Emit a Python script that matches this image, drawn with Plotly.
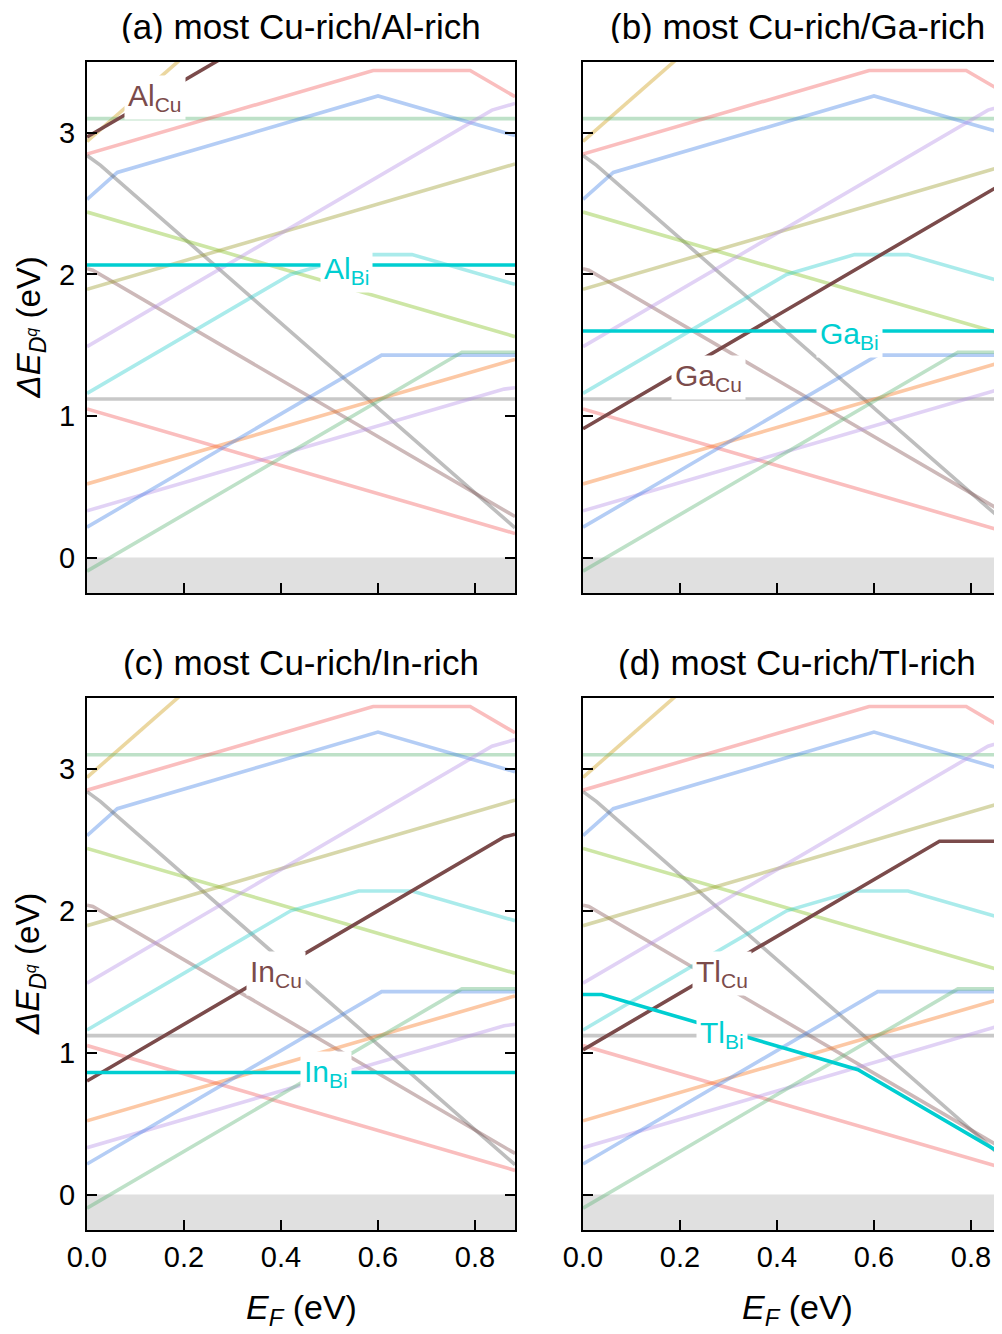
import plotly.graph_objects as go

# ---------------- data ----------------
EF_MAX = 0.8825

# background (faint) defect lines, identical in all panels: breakpoints (E_F, dE)
bg_names = ["yellow", "green_top", "pink_top", "blue_top", "gray_steep", "rosy",
            "yellowgreen", "khaki", "purple_top", "cyan_light", "gray_h",
            "pink_low", "orange", "purple_low", "blue_low", "green_low"]
bg_x = {
    "yellow":      [0.0, 0.25],
    "green_top":   [0.0, EF_MAX],
    "pink_top":    [0.0, 0.59, 0.79, EF_MAX],
    "blue_top":    [0.0, 0.0625, 0.60, EF_MAX],
    "gray_steep":  [0.0, 0.028, EF_MAX],
    "rosy":        [0.0, 0.012, EF_MAX],
    "yellowgreen": [0.0, EF_MAX],
    "khaki":       [0.0, EF_MAX],
    "purple_top":  [0.0, 0.835, EF_MAX],
    "cyan_light":  [0.0, 0.42, 0.56, 0.67, EF_MAX],
    "gray_h":      [0.0, EF_MAX],
    "pink_low":    [0.0, EF_MAX],
    "orange":      [0.0, EF_MAX],
    "purple_low":  [0.0, 0.86, EF_MAX],
    "blue_low":    [0.0, 0.6076, EF_MAX],
    "green_low":   [0.0, 0.773, EF_MAX],
}
bg_y = {
    "yellow":      [2.94, 3.69],
    "green_top":   [3.10, 3.10],
    "pink_top":    [2.85, 3.44, 3.44, 3.255],
    "blue_top":    [2.53, 2.72, 3.26, 2.98],
    "gray_steep":  [2.84, 2.77, 0.21],
    "rosy":        [2.04, 2.03, 0.29],
    "yellowgreen": [2.44, 1.56],
    "khaki":       [1.895, 2.78],
    "purple_top":  [1.49, 3.16, 3.207],
    "cyan_light":  [1.16, 2.00, 2.14, 2.14, 1.93],
    "gray_h":      [1.12, 1.12],
    "pink_low":    [1.05, 0.17],
    "orange":      [0.52, 1.40],
    "purple_low":  [0.33, 1.19, 1.20],
    "blue_low":    [0.215, 1.43, 1.43],
    "green_low":   [-0.096, 1.45, 1.45],
}
bg_color = {
    "yellow":      "rgba(205,155,17,0.40)",
    "green_top":   "rgba(92,180,117,0.40)",
    "pink_top":    "rgba(242,92,92,0.40)",
    "blue_top":    "rgba(67,130,230,0.40)",
    "gray_steep":  "rgba(92,92,92,0.40)",
    "rosy":        "rgba(130,80,80,0.40)",
    "yellowgreen": "rgba(130,192,30,0.40)",
    "khaki":       "rgba(155,155,42,0.40)",
    "purple_top":  "rgba(180,142,230,0.40)",
    "cyan_light":  "rgba(42,205,205,0.40)",
    "gray_h":      "rgba(117,117,117,0.40)",
    "pink_low":    "rgba(242,92,92,0.40)",
    "orange":      "rgba(247,117,30,0.40)",
    "purple_low":  "rgba(180,142,230,0.40)",
    "blue_low":    "rgba(67,130,230,0.40)",
    "green_low":   "rgba(92,180,117,0.40)",
}

panels = ["a", "b", "c", "d"]
titles = ["(a) most Cu-rich/Al-rich", "(b) most Cu-rich/Ga-rich",
          "(c) most Cu-rich/In-rich", "(d) most Cu-rich/Tl-rich"]
elements = ["Al", "Ga", "In", "Tl"]

# highlighted X_Cu (brown) and X_Bi (cyan) lines per panel
xcu_x = [[0.0, 0.30], [0.0, 0.85, EF_MAX], [0.0, 0.86, EF_MAX], [0.0, 0.735, EF_MAX]]
xcu_y = [[2.97, 3.57], [0.91, 2.61, 2.64], [0.80, 2.52, 2.54], [1.02, 2.49, 2.49]]
xbi_x = [[0.0, EF_MAX], [0.0, EF_MAX], [0.0, EF_MAX], [0.0, 0.0385, 0.567, EF_MAX]]
xbi_y = [[2.066, 2.066], [1.60, 1.60], [0.86, 0.86], [1.41, 1.41, 0.88, 0.25]]

# label anchor positions (E_F, dE)
xcu_lab = [(0.14, 3.25), (0.258, 1.27), (0.39, 1.56), (0.287, 1.56)]
xbi_lab = [(0.536, 2.03), (0.55, 1.57), (0.493, 0.85), (0.287, 1.13)]

y_ticks = [0, 1, 2, 3]
x_ticks = [0.0, 0.2, 0.4, 0.6, 0.8]
Y_RANGE = [-0.25, 3.5]

BROWN = "#7b4b4b"
CYAN = "#00CED1"
FONT = "Liberation Sans, Arial, Helvetica, sans-serif"

# ---------------- layout geometry (page px; the page body adds an 8px offset) ----------------
OFF = 8
W, H = 1002 - OFF, 1334 - OFF
px_per_ev = 485.0
col_left = [87 - OFF, 583 - OFF]
row_top = [62 - OFF, 698 - OFF]
row_bot = [593 - OFF, 1230 - OFF]

fig = go.Figure()

layout = dict(
    template="none",
    width=W, height=H, autosize=False,
    margin=dict(l=0, r=0, t=0, b=0, pad=0),
    paper_bgcolor="white", plot_bgcolor="white",
    showlegend=False,
    font=dict(family=FONT, color="black"),
)
annotations = []
shapes = []

for i, p in enumerate(panels):
    r, c = divmod(i, 2)
    ax = "" if i == 0 else str(i + 1)
    x0px = col_left[c]
    x1px = min(x0px + px_per_ev * EF_MAX, W)
    xmax = (x1px - x0px) / px_per_ev
    xdom = [x0px / W, x1px / W]
    ydom = [1 - row_bot[r] / H, 1 - row_top[r] / H]

    layout["xaxis" + ax] = dict(
        domain=xdom, range=[0, xmax], anchor="y" + ax, automargin=False,
        showline=True, linecolor="black", linewidth=2, mirror=True,
        ticks="inside", ticklen=10, tickwidth=2, tickcolor="black",
        tickvals=x_ticks, tickformat=".1f",
        showticklabels=(r == 1), tickfont=dict(size=29, family=FONT),
        ticklabelstandoff=0,
        showgrid=False, zeroline=False,
    )
    layout["yaxis" + ax] = dict(
        domain=ydom, range=Y_RANGE, anchor="x" + ax, automargin=False,
        showline=True, linecolor="black", linewidth=2,
        mirror=("ticks" if c == 0 else False),
        ticks="inside", ticklen=10, tickwidth=2, tickcolor="black",
        tickvals=y_ticks, showticklabels=(c == 0),
        tickfont=dict(size=29, family=FONT), ticklabelstandoff=4,
        showgrid=False, zeroline=False,
    )

    xr, yr = "x" + ax, "y" + ax
    # gray band below zero
    shapes.append(dict(type="rect", xref=xr + " domain", yref=yr,
                       x0=0, x1=1, y0=Y_RANGE[0], y1=0,
                       fillcolor="#e0e0e0", line=dict(width=0), layer="below"))

    for n in bg_names:
        fig.add_trace(go.Scatter(x=bg_x[n], y=bg_y[n], mode="lines",
                                 line=dict(color=bg_color[n], width=3.6),
                                 xaxis=xr, yaxis=yr, hoverinfo="skip"))
    fig.add_trace(go.Scatter(x=xcu_x[i], y=xcu_y[i], mode="lines",
                             line=dict(color=BROWN, width=3.6),
                             xaxis=xr, yaxis=yr))
    fig.add_trace(go.Scatter(x=xbi_x[i], y=xbi_y[i], mode="lines",
                             line=dict(color=CYAN, width=3.6),
                             xaxis=xr, yaxis=yr))

    el = elements[i]
    annotations.append(dict(xref=xr, yref=yr, x=xcu_lab[i][0], y=xcu_lab[i][1],
                            xanchor="center", yanchor="middle",
                            text=f"{el}<sub>Cu</sub>", showarrow=False,
                            font=dict(size=30, color=BROWN, family=FONT),
                            bgcolor="white", borderpad=3))
    annotations.append(dict(xref=xr, yref=yr, x=xbi_lab[i][0], y=xbi_lab[i][1],
                            xanchor="center", yanchor="middle",
                            text=f"{el}<sub>Bi</sub>", showarrow=False,
                            font=dict(size=30, color=CYAN, family=FONT),
                            bgcolor="white", borderpad=3))

    # panel title
    cx = (x0px + 214) / W
    annotations.append(dict(xref="paper", yref="paper", x=cx, y=1 - (row_top[r] - 36) / H,
                            text=titles[i], showarrow=False,
                            xanchor="center", yanchor="middle", height=34,
                            font=dict(size=35, family=FONT)))
    if r == 1:
        annotations.append(dict(xref="paper", yref="paper", x=cx, y=1 - (1309 - OFF) / H,
                                text="<i>E</i><sub><i>F</i></sub> (eV)", showarrow=False,
                                xanchor="center", yanchor="middle",
                                font=dict(size=34, family=FONT)))
    if c == 0:
        cy = (row_top[r] + row_bot[r]) / 2
        annotations.append(dict(xref="paper", yref="paper", x=(30 - OFF) / W, y=1 - cy / H,
                                text="<i>ΔE</i><sub><i>D</i><sup><i>q</i></sup></sub> (eV)",
                                showarrow=False, textangle=-90, xanchor="center",
                                yanchor="middle", font=dict(size=33, family=FONT)))

layout["annotations"] = annotations
layout["shapes"] = shapes
fig.update_layout(**layout)
fig.write_html("out.html")
